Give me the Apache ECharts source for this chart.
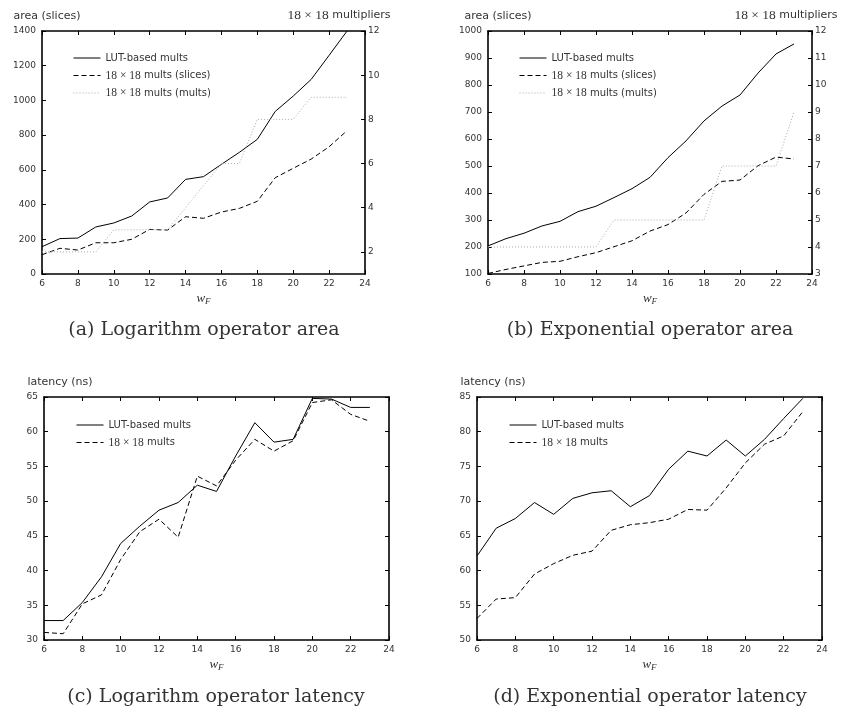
<!DOCTYPE html>
<html>
<head>
<meta charset="utf-8">
<script src="https://cdn.jsdelivr.net/npm/echarts@6/dist/echarts.min.js"></script>
<style>html,body{margin:0;padding:0;background:#fff}#c{width:842px;height:713px}</style>
</head>
<body>
<div id="c"></div>
<script>
const wF = [6,7,8,9,10,11,12,13,14,15,16,17,18,19,20,21,22,23];

const logAreaLUT    = [157,204,207,271,294,334,415,438,545,561,632,701,776,937,1025,1121,1260,1400];
const logAreaSlices = [111,148,138,180,180,200,257,253,330,321,357,378,419,555,609,662,733,826];
const logAreaMults  = [2,2,2,2,3,3,3,3,4,5,6,6,8,8,8,9,9,9];

const expAreaLUT    = [204,231,251,278,295,331,351,383,416,458,531,593,667,722,763,844,915,952];
const expAreaSlices = [102,117,130,143,147,164,179,201,223,259,283,326,395,443,448,501,533,526];
const expAreaMults  = [4,4,4,4,4,4,4,5,5,5,5,5,5,7,7,7,7,9];

const logLatLUT = [32.8,32.8,35.4,39.1,43.9,46.4,48.7,49.8,52.3,51.4,56.5,61.3,58.5,58.9,64.8,64.7,63.5,63.5];
const logLatDSP = [31.1,30.9,35.2,36.5,41.6,45.6,47.4,44.8,53.6,52.2,55.9,58.9,57.2,58.7,64.2,64.6,62.5,61.5];

const expLatLUT = [62.1,66.1,67.5,69.8,68.1,70.4,71.2,71.5,69.2,70.8,74.6,77.2,76.5,78.8,76.5,78.9,81.9,84.8];
const expLatDSP = [53.1,55.9,56.1,59.5,61.0,62.2,62.8,65.8,66.6,66.9,67.4,68.8,68.7,71.9,75.5,78.2,79.4,82.9];

const areaRightTicksA = [2,4,6,8,10,12];

const nLUT = 'LUT-based mults';
const nSlices = '18 × 18 mults (slices)';
const nMults = '18 × 18 mults (mults)';
const nDSP = '18 × 18 mults';

const captions = ['(a) Logarithm operator area','(b) Exponential operator area','(c) Logarithm operator latency','(d) Exponential operator latency'];

const pairs = arr => arr.map((v,i)=>[wF[i],v]);

const SANS = 'DejaVu Sans';
const SERIF = 'Liberation Serif';
const TXT = '#333';
const plain = v => String(v);

const grids = [
  {left:42, top:31, width:323, height:243},
  {left:488, top:31, width:324, height:243},
  {left:44, top:397, width:345, height:243},
  {left:477, top:397, width:345, height:243}
];

const lineAx = {show:true, onZero:false, lineStyle:{color:'#000', width:1.6}};
const tickAx = {show:true, inside:true, length:4, lineStyle:{color:'#000', width:1}};

const xAxes = [], yAxes = [];
grids.forEach((g,i)=>{
  xAxes.push({
    type:'value', gridIndex:i, position:'bottom', min:6, max:24, interval:2,
    axisLine:lineAx, axisTick:tickAx, splitLine:{show:false},
    axisLabel:{color:TXT, fontSize:9, fontFamily:SANS, margin:5, formatter:plain},
    name:'{w|w}{f|F}', nameLocation:'middle', nameGap:17,
    nameTextStyle:{rich:{
      w:{fontFamily:SERIF, fontStyle:'italic', fontSize:13, color:TXT},
      f:{fontFamily:SERIF, fontStyle:'italic', fontSize:9, color:TXT, padding:[6,0,0,0]}
    }}
  });
  xAxes.push({
    type:'value', gridIndex:i, position:'top', min:6, max:24, interval:2,
    axisLine:lineAx, axisTick:tickAx, splitLine:{show:false}, axisLabel:{show:false}
  });
});

const leftCfg = [
  {min:0, max:1400, interval:200, name:'area (slices)', pad:10},
  {min:100, max:1000, interval:100, name:'area (slices)', pad:20},
  {min:30, max:65, interval:5, name:'latency (ns)', pad:32},
  {min:50, max:85, interval:5, name:'latency (ns)', pad:32}
];
leftCfg.forEach((c,i)=>{
  yAxes.push({
    type:'value', gridIndex:i, position:'left', min:c.min, max:c.max, interval:c.interval,
    axisLine:lineAx, axisTick:tickAx, splitLine:{show:false},
    axisLabel:{color:TXT, fontSize:9, fontFamily:SANS, margin:6, formatter:plain},
    name:c.name, nameLocation:'end', nameGap:9,
    nameTextStyle:{color:TXT, fontSize:11, fontFamily:SANS, padding:[0,0,0,c.pad]}
  });
});
// right axes
const rightName = '{s|18 × 18} multipliers';
const rightNameStyle = {color:TXT, fontSize:11, fontFamily:SANS, padding:[0,52,0,0],
  rich:{s:{fontFamily:SERIF, fontSize:13.5, color:TXT}}};
yAxes.push({
  type:'value', gridIndex:0, position:'right', min:1, max:12,
  axisLine:lineAx, axisTick:Object.assign({}, tickAx, {customValues:areaRightTicksA}),
  splitLine:{show:false},
  axisLabel:{color:TXT, fontSize:9, fontFamily:SANS, margin:3, customValues:areaRightTicksA, formatter:plain},
  name:rightName, nameLocation:'end', nameGap:9, nameTextStyle:rightNameStyle
});
yAxes.push({
  type:'value', gridIndex:1, position:'right', min:3, max:12, interval:1,
  axisLine:lineAx, axisTick:tickAx, splitLine:{show:false},
  axisLabel:{color:TXT, fontSize:9, fontFamily:SANS, margin:3, formatter:plain},
  name:rightName, nameLocation:'end', nameGap:9, nameTextStyle:rightNameStyle
});
[2,3].forEach(i=>{
  yAxes.push({
    type:'value', gridIndex:i, position:'right', min:leftCfg[i].min, max:leftCfg[i].max, interval:leftCfg[i].interval,
    axisLine:lineAx, axisTick:tickAx, splitLine:{show:false}, axisLabel:{show:false}
  });
});

const solid = {color:'#000', width:1, type:'solid'};
const dashed = {color:'#000', width:1, type:[5,3]};
const dotted = {color:'#aaa', width:1, type:[1,2]};

function ser(name, data, xi, yi, ls){
  return {type:'line', name:name, data:pairs(data), xAxisIndex:xi, yAxisIndex:yi,
    symbol:'none', lineStyle:ls, itemStyle:{color:ls.color}, animation:false, silent:true};
}

const series = [
  ser(nLUT, logAreaLUT, 0, 0, solid),
  ser(nSlices, logAreaSlices, 0, 0, dashed),
  ser(nMults, logAreaMults, 0, 4, dotted),
  ser(nLUT, expAreaLUT, 2, 1, solid),
  ser(nSlices, expAreaSlices, 2, 1, dashed),
  ser(nMults, expAreaMults, 2, 5, dotted),
  ser(nLUT, logLatLUT, 4, 2, solid),
  ser(nDSP, logLatDSP, 4, 2, dashed),
  ser(nLUT, expLatLUT, 6, 3, solid),
  ser(nDSP, expLatDSP, 6, 3, dashed)
];

const legendFmt = n => n.replace('18 × 18', '{s|18 × 18}');
function leg(left, top, data){
  return {left:left, top:top, orient:'vertical', itemWidth:27, itemHeight:12, itemGap:5.5,
    data:data, selectedMode:false, formatter:legendFmt,
    itemStyle:{opacity:0, borderWidth:0},
    lineStyle:{width:1},
    textStyle:{color:TXT, fontSize:10, fontFamily:SANS, lineHeight:12,
      rich:{s:{fontFamily:SERIF, fontSize:11.5, color:TXT}}}};
}

const capPos = [[204,330],[650,330],[216,697],[650,697]];

const option = {
  backgroundColor:'#fff',
  animation:false,
  grid:grids,
  xAxis:xAxes,
  yAxis:yAxes,
  legend:[
    leg(68,47,[nLUT,nSlices,nMults]),
    leg(514,47,[nLUT,nSlices,nMults]),
    leg(71,414,[nLUT,nDSP]),
    leg(504,414,[nLUT,nDSP])
  ],
  series:series,
  graphic: captions.map((t,i)=>({
    type:'text', x:capPos[i][0], y:capPos[i][1],
    style:{text:t, fill:TXT, font:'19px "DejaVu Serif"', textAlign:'center', textVerticalAlign:'middle'}
  }))
};

const chart = echarts.init(document.getElementById('c'));
chart.setOption(option);
</script>
</body>
</html>
